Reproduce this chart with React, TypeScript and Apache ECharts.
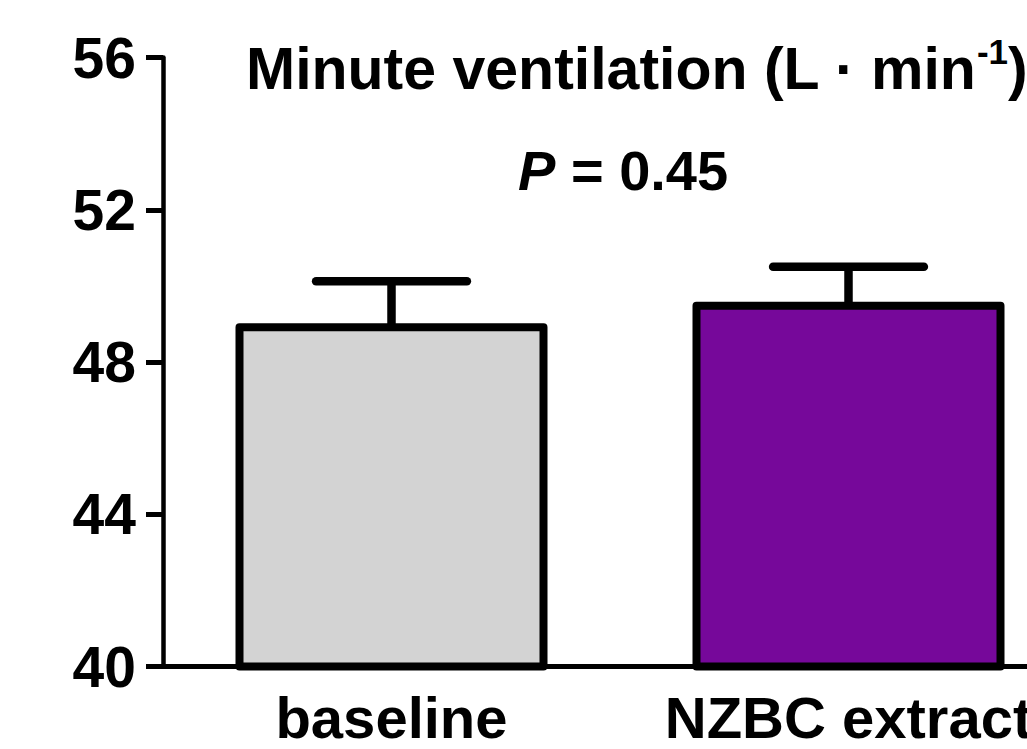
import React, { useEffect, useRef } from "react";
import * as echarts from "echarts";

const categories = ["baseline", "NZBC extract"];
const means = [49.02, 49.58];
const sem = [1.1, 0.92];
const barColors = ["#D3D3D3", "#76089A"];
const yTicks = { min: 40, max: 56, interval: 4 };
const titleText = "Minute ventilation (L · min";
const titleSup = "-1";
const pText = " = 0.45";

const FONT = "'Liberation Sans', Arial, Helvetica, sans-serif";

export default function App() {
  const ref = useRef<HTMLDivElement>(null);
  useEffect(() => {
    if (!ref.current) return;
    const chart = echarts.init(ref.current, null, { renderer: "svg" });
    const option: any = {
      animation: false,
      backgroundColor: "#ffffff",
      title: [
        {
          text: `{a|${titleText}}{s|${titleSup}}{a|)}`,
          left: 246,
          top: 34,
          padding: 0,
          textStyle: {
            rich: {
              a: { fontFamily: FONT, fontWeight: "bold", fontSize: 59, color: "#000" },
              s: { fontFamily: FONT, fontWeight: "bold", fontSize: 35, color: "#000", verticalAlign: "top", padding: [0, 0, 34, 0] },
            },
          },
        },
        {
          text: `{i|P}{n|${pText}}`,
          left: 518,
          top: 142,
          padding: 0,
          textStyle: {
            rich: {
              i: { fontFamily: FONT, fontWeight: "bold", fontStyle: "italic", fontSize: 56, color: "#000" },
              n: { fontFamily: FONT, fontWeight: "bold", fontSize: 56, color: "#000" },
            },
          },
        },
      ],
      grid: { left: 163, right: 23, top: 57.5, bottom: 82.5, containLabel: false },
      xAxis: {
        type: "category",
        data: categories,
        boundaryGap: true,
        axisLine: { lineStyle: { color: "#000", width: 5 } },
        axisTick: { alignWithLabel: true, length: 16, lineStyle: { color: "#000", width: 4 } },
        axisLabel: { interval: 0, hideOverlap: false, color: "#000", fontFamily: FONT, fontWeight: "bold", fontSize: 58, margin: 22 },
        splitLine: { show: false },
      },
      yAxis: {
        type: "value",
        min: yTicks.min,
        max: yTicks.max,
        interval: yTicks.interval,
        axisLine: { show: true, lineStyle: { color: "#000", width: 4.5 } },
        axisTick: { show: true, length: 17, lineStyle: { color: "#000", width: 5 } },
        axisLabel: { color: "#000", fontFamily: FONT, fontWeight: "bold", fontSize: 57, margin: 27 },
        splitLine: { show: false },
      },
      series: [
        {
          type: "custom",
          z: 1,
          data: means.map((m, i) => [i, m, m + sem[i]]),
          renderItem: (params: any, api: any) => {
            const x = api.value(0);
            const base = api.coord([x, api.value(1)]);
            const top = api.coord([x, api.value(2)]);
            const half = api.size([1, 0])[0] * 0.165;
            const st = { stroke: "#000", lineWidth: 8.5, lineCap: "round" };
            return {
              type: "group",
              children: [
                { type: "line", shape: { x1: base[0], y1: base[1] + 4, x2: top[0], y2: top[1] }, style: { ...st, lineCap: "butt" } },
                { type: "line", shape: { x1: top[0] - half, y1: top[1], x2: top[0] + half, y2: top[1] }, style: st },
              ],
            };
          },
        },
        {
          type: "bar",
          z: 2,
          barWidth: 312,
          data: means.map((m, i) => ({
            value: m,
            itemStyle: { color: barColors[i], borderColor: "#000", borderWidth: 8, borderJoin: "round" },
          })),
        },
      ],
    };
    chart.setOption(option);
    return () => chart.dispose();
  }, []);
  return (
    <div style={{ position: "fixed", left: 0, top: 0, width: 1027, height: 749, overflow: "hidden", background: "#fff" }}>
      <div ref={ref} style={{ width: 1100, height: 749 }} />
    </div>
  );
}
